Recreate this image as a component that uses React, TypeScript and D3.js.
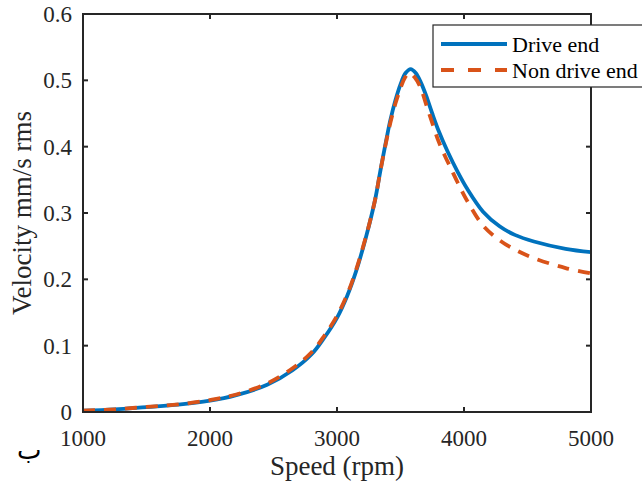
import React from "react";
import * as d3 from "d3";

const speedDrive = [1000, 1250, 1500, 1750, 2000, 2200, 2450, 2650, 2800, 2900, 3000, 3080, 3150, 3230, 3300, 3340, 3390, 3420, 3460, 3500, 3540, 3580, 3620, 3660, 3700, 3750, 3800, 3870, 3950, 4020, 4150, 4280, 4400, 4550, 4800, 5000];
const velDrive = [0.002, 0.004, 0.0075, 0.011, 0.017, 0.025, 0.041, 0.063, 0.087, 0.112, 0.142, 0.175, 0.212, 0.265, 0.320, 0.362, 0.412, 0.440, 0.470, 0.494, 0.511, 0.517, 0.511, 0.497, 0.478, 0.450, 0.424, 0.393, 0.362, 0.338, 0.302, 0.280, 0.267, 0.257, 0.246, 0.241];

const speedNonDrive = [1000, 1250, 1500, 1750, 2000, 2200, 2450, 2650, 2800, 2900, 3000, 3080, 3150, 3230, 3300, 3340, 3390, 3420, 3460, 3500, 3535, 3570, 3610, 3660, 3700, 3750, 3800, 3850, 3900, 3950, 4020, 4150, 4280, 4400, 4550, 4800, 5000];
const velNonDrive = [0.002, 0.004, 0.0078, 0.0115, 0.018, 0.026, 0.043, 0.066, 0.090, 0.115, 0.145, 0.177, 0.214, 0.266, 0.320, 0.362, 0.410, 0.436, 0.465, 0.488, 0.504, 0.511, 0.505, 0.488, 0.465, 0.436, 0.408, 0.386, 0.366, 0.346, 0.320, 0.281, 0.259, 0.245, 0.232, 0.217, 0.209];

const xTicks = [1000, 2000, 3000, 4000, 5000];
const yTicks = [0, 0.1, 0.2, 0.3, 0.4, 0.5, 0.6];
const seriesNames = ["Drive end", "Non drive end"];

const W = 642, H = 483;
const L = 83, R = 591, T = 14, B = 412;
const FONT = "'Liberation Serif', 'Times New Roman', serif";
const AX = "#262626";

export default function App() {
  const x = d3.scaleLinear().domain([1000, 5000]).range([L, R]);
  const y = d3.scaleLinear().domain([0, 0.6]).range([B, T]);
  const line = d3.line<[number, number]>().x(d => x(d[0])).y(d => y(d[1])).curve(d3.curveCatmullRom.alpha(0.5));
  const dDrive = line(speedDrive.map((s, i) => [s, velDrive[i]] as [number, number])) || "";
  const dNon = line(speedNonDrive.map((s, i) => [s, velNonDrive[i]] as [number, number])) || "";
  const tl = 5;
  return (
    <svg width={W} height={H} style={{ position: "absolute", left: 0, top: 0, background: "#fff" }} fontFamily={FONT}>
      <rect x={0} y={0} width={W} height={H} fill="#fff" />
      <defs>
        <clipPath id="plotclip"><rect x={L} y={T - 2} width={R - L} height={B - T + 4} /></clipPath>
      </defs>
      <g clipPath="url(#plotclip)">
        <path d={dDrive} fill="none" stroke="#0072BD" strokeWidth={3.8} />
        <path d={dNon} fill="none" stroke="#D95319" strokeWidth={3.8} strokeDasharray="12,9" />
      </g>
      <rect x={L} y={T} width={R - L} height={B - T} fill="none" stroke={AX} strokeWidth={2} />
      {xTicks.map(t => (
        <g key={"x" + t}>
          <line x1={x(t)} x2={x(t)} y1={B} y2={B - tl} stroke={AX} strokeWidth={2} />
          <line x1={x(t)} x2={x(t)} y1={T} y2={T + tl} stroke={AX} strokeWidth={2} />
          <text x={x(t)} y={446} fontSize={23} textAnchor="middle" fill="#262626">{t}</text>
        </g>
      ))}
      {yTicks.map(t => (
        <g key={"y" + t}>
          <line x1={L} x2={L + tl} y1={y(t)} y2={y(t)} stroke={AX} strokeWidth={2} />
          <line x1={R} x2={R - tl} y1={y(t)} y2={y(t)} stroke={AX} strokeWidth={2} />
          <text x={72} y={y(t) + 8} fontSize={23} textAnchor="end" fill="#262626">{t === 0 ? "0" : t.toFixed(1)}</text>
        </g>
      ))}
      <text x={(L + R) / 2} y={475} fontSize={27} textAnchor="middle" fill="#262626">Speed (rpm)</text>
      <text transform={`translate(31,${(T + B) / 2}) rotate(-90)`} fontSize={27} textAnchor="middle" fill="#262626">Velocity mm/s rms</text>
      <text x={17} y={459} fontSize={26} fontFamily="'DejaVu Sans', 'Noto Sans', sans-serif" fill="#000">ب</text>
      <rect x={433} y={25} width={230} height={62} fill="#fff" stroke={AX} strokeWidth={1.2} />
      <line x1={441} x2={507} y1={44} y2={44} stroke="#0072BD" strokeWidth={3.8} />
      <line x1={441} x2={507} y1={70} y2={70} stroke="#D95319" strokeWidth={3.8} strokeDasharray="13,14" />
      <text x={512} y={52} fontSize={22} fill="#000">{seriesNames[0]}</text>
      <text x={512} y={78} fontSize={22} fill="#000">{seriesNames[1]}</text>
    </svg>
  );
}
